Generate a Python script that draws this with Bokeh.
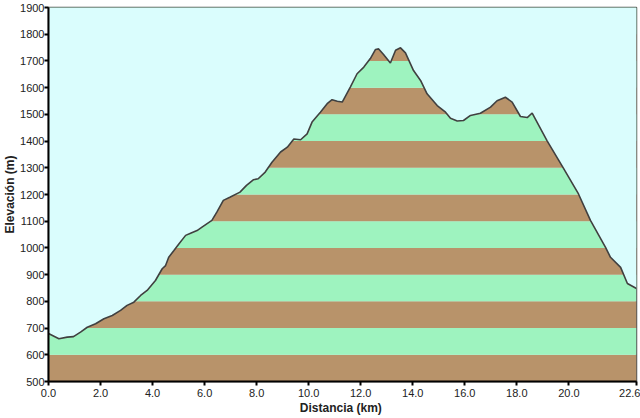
from bokeh.plotting import figure
from bokeh.models import FixedTicker, ColumnDataSource
from bokeh.embed import file_html
from bokeh.resources import INLINE

distance_km = [0.0, 0.40, 0.72, 0.96, 1.23, 1.49, 1.81, 2.13, 2.45, 2.77, 3.02, 3.28, 3.54,
               3.79, 4.11, 4.37, 4.50, 4.62, 4.82, 5.01, 5.27, 5.46, 5.71, 5.90, 6.28,
               6.47, 6.72, 6.97, 7.36, 7.61, 7.87, 8.06, 8.33, 8.59, 8.92, 9.18, 9.43,
               9.69, 9.94, 10.13, 10.45, 10.71, 10.90, 11.10, 11.29, 11.60, 11.86, 12.12,
               12.37, 12.57, 12.69, 12.87, 13.14, 13.34, 13.53, 13.72, 14.03, 14.30,
               14.55, 14.94, 15.26, 15.45, 15.71, 15.95, 16.22, 16.60, 16.99, 17.24,
               17.56, 17.82, 18.14, 18.40, 18.59, 19.17, 19.79, 20.37, 20.83, 21.41,
               21.60, 21.99, 22.25, 22.60]
elevation_m = [680, 660, 666, 668, 685, 703, 716, 735, 747, 766, 785, 797, 822,
               841, 878, 922, 934, 965, 990, 1015, 1047, 1055, 1065, 1078, 1103,
               1134, 1178, 1190, 1209, 1234, 1255, 1259, 1284, 1321, 1359, 1377, 1408,
               1405, 1427, 1471, 1508, 1540, 1555, 1549, 1546, 1602, 1652, 1677,
               1709, 1743, 1745, 1725, 1692, 1740, 1749, 1730, 1664, 1627,
               1577, 1533, 1508, 1485, 1475, 1477, 1496, 1504, 1527, 1551,
               1564, 1546, 1492, 1488, 1505, 1400, 1299, 1202, 1103, 1002,
               965, 927, 867, 848]

x_ticks = [0, 2, 4, 6, 8, 10, 12, 14, 16, 18, 20, 22.6]
x_tick_labels = ["0.0", "2.0", "4.0", "6.0", "8.0", "10.0", "12.0", "14.0", "16.0",
                 "18.0", "20.0", "22.6"]
y_ticks = list(range(500, 2000, 100))
x_label = "Distancia  (km)"
y_label = "Elevación (m)"

SKY = "#dafdfd"
BROWN = "#b8936a"
GREEN = "#9ef3bf"

x_min, x_max = 0, 22.6
y_min, y_max = 500, 1900

p = figure(width=640, height=418, output_backend="svg", toolbar_location=None,
           x_range=(x_min, x_max), y_range=(y_min, y_max),
           min_border_left=48, min_border_right=4, min_border_top=7, min_border_bottom=37)
p.background_fill_color = SKY
p.border_fill_color = "white"
p.xgrid.visible = False
p.ygrid.visible = False
p.outline_line_color = "#555555"
p.outline_line_width = 1.5

# alternating elevation bands
bottoms = y_ticks[:-1]
tops = y_ticks[1:]
colors = [BROWN if i % 2 == 0 else GREEN for i in range(len(bottoms))]
band_src = ColumnDataSource(dict(bottom=bottoms, top=tops, color=colors,
                                 left=[x_min] * len(bottoms), right=[x_max] * len(bottoms)))
p.quad(left="left", right="right", bottom="bottom", top="top", fill_color="color",
       line_color=None, source=band_src)

# sky above the profile
prof = ColumnDataSource(dict(x=distance_km, y=elevation_m, top=[y_max] * len(distance_km)))
p.varea(x="x", y1="y", y2="top", fill_color=SKY, source=prof)
p.line(x="x", y="y", line_color="#404040", line_width=1.6, source=prof)

for ax in (p.xaxis[0], p.yaxis[0]):
    ax.axis_line_color = "black"
    ax.axis_line_width = 2
    ax.major_tick_line_color = "black"
    ax.major_tick_line_width = 2
    ax.major_tick_out = 4
    ax.major_tick_in = 0
    ax.minor_tick_line_color = None
    ax.major_label_text_font = "Liberation Sans"
    ax.major_label_text_font_size = "11px"
    ax.major_label_text_color = "#222222"
    ax.axis_label_text_font = "Liberation Sans"
    ax.axis_label_text_font_size = "12px"
    ax.axis_label_text_font_style = "bold"
    ax.axis_label_text_color = "#222222"

p.xaxis.ticker = FixedTicker(ticks=x_ticks)
p.xaxis.major_label_overrides = {t: l for t, l in zip(x_ticks, x_tick_labels)}
p.xaxis.axis_label = x_label
p.xaxis.axis_label_standoff = 1
p.xaxis.major_label_standoff = 3
p.yaxis.ticker = FixedTicker(ticks=y_ticks)
p.yaxis.axis_label = y_label
p.yaxis.axis_label_standoff = 0
p.yaxis.major_label_standoff = 0

open("out.html", "w").write(file_html(p, INLINE))
